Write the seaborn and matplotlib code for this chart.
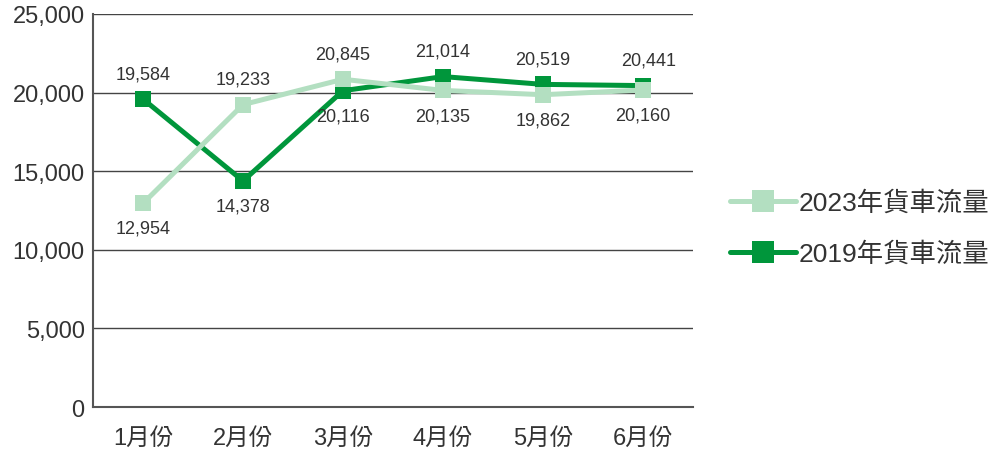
import matplotlib.pyplot as plt
import seaborn as sns
import pandas as pd

months = ['1月份', '2月份', '3月份', '4月份', '5月份', '6月份']
trucks_2023 = [12954, 19233, 20845, 20135, 19862, 20160]
trucks_2019 = [19584, 14378, 20116, 21014, 20519, 20441]
# label above (+) or below (-) the point
pos_2023 = [-1, 1, 1, -1, -1, -1]
pos_2019 = [1, -1, -1, 1, 1, 1]
yticks = [0, 5000, 10000, 15000, 20000, 25000]

light = '#b3dfc1'
dark = '#00963b'

sns.set_style('white')
plt.rcParams['font.family'] = ['Liberation Sans', 'Noto Sans CJK TC']

fig = plt.figure(figsize=(9.95, 4.52), dpi=100)
ax = fig.add_axes([0.0935, 0.0973, 0.603, 0.8697])

df19 = pd.DataFrame({'month': months, 'value': trucks_2019})
df23 = pd.DataFrame({'month': months, 'value': trucks_2023})

sns.lineplot(data=df19, x='month', y='value', ax=ax, color=dark, lw=3.6,
             marker='s', markersize=12, markeredgewidth=0, label='2019年貨車流量', zorder=3)
sns.lineplot(data=df23, x='month', y='value', ax=ax, color=light, lw=3.6,
             marker='s', markersize=12, markeredgewidth=0, label='2023年貨車流量', zorder=4)

for i, (v, p) in enumerate(zip(trucks_2023, pos_2023)):
    ax.annotate(f'{v:,}', (i, v), xytext=(0, 12 * p), textcoords='offset points',
                ha='center', va='bottom' if p > 0 else 'top', fontsize=13, color='#333333')
for i, (v, p) in enumerate(zip(trucks_2019, pos_2019)):
    dx = 4 if i == 5 else 0
    ax.annotate(f'{v:,}', (i, v), xytext=(dx, 12 * p), textcoords='offset points',
                ha='center', va='bottom' if p > 0 else 'top', fontsize=13, color='#333333')

ax.set_xlim(-0.5, 5.5)
ax.set_ylim(0, 25000)
ax.set_yticks(yticks)
ax.set_yticklabels([f'{t:,}' for t in yticks])
ax.set_xlabel('')
ax.set_ylabel('')
ax.grid(axis='y', color='#444444', lw=1)
ax.set_axisbelow(True)
for s in ['top', 'right']:
    ax.spines[s].set_visible(False)
for s in ['left', 'bottom']:
    ax.spines[s].set_color('#555555')
    ax.spines[s].set_linewidth(1.5)
ax.tick_params(axis='both', length=0, labelsize=17, colors='#333333', pad=6)
ax.tick_params(axis='x', pad=14)

h, l = ax.get_legend_handles_labels()
ax.legend(h[::-1], l[::-1], loc='center left', bbox_to_anchor=(1.022, 0.455),
          frameon=False, fontsize=19, handlelength=2.5, handletextpad=0.1,
          labelspacing=1.0, labelcolor='#333333', markerscale=1.3)

fig.savefig('out.png', dpi=100)
